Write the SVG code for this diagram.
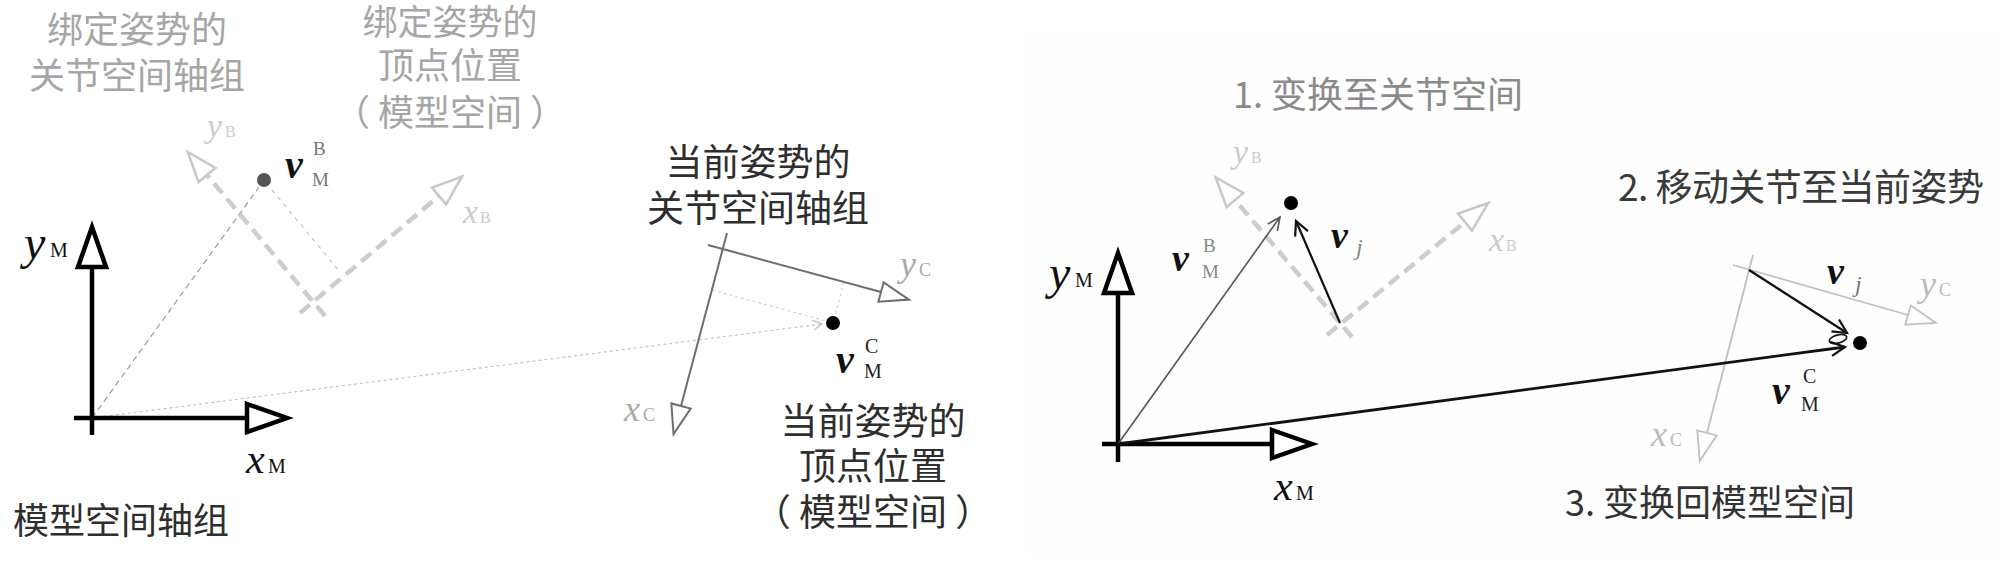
<svg xmlns="http://www.w3.org/2000/svg" width="2000" height="578" viewBox="0 0 2000 578">
<style>
.cjk{font-family:'Noto Sans CJK SC','Noto Sans CJK JP',sans-serif;}
.m{font-family:'Liberation Serif','DejaVu Serif',serif;}
.it{font-style:italic}
.bi{font-style:italic;font-weight:bold}
.lt{fill:#a6a6a6}
.dk{fill:#2e2e2e}
.axm{stroke:#000;stroke-width:4.5;fill:none}
.bind{stroke:#cdcdcd;stroke-width:4.5;stroke-dasharray:13 7;fill:none}
.curL{stroke:#6e6e6e;stroke-width:2;fill:none}
.curR{stroke:#c0c0c0;stroke-width:1.8;fill:none}
</style>
<defs>
<marker id="triM" markerUnits="userSpaceOnUse" orient="auto" overflow="visible" markerWidth="100" markerHeight="100" refX="0" refY="0"><path d="M0,-14 L40,0 L0,14 Z" fill="#fff" stroke="#000" stroke-width="4.5"/></marker>
<marker id="triB" markerUnits="userSpaceOnUse" orient="auto" overflow="visible" markerWidth="100" markerHeight="100" refX="0" refY="0"><path d="M0,-11 L30,0 L0,11 Z" fill="#fff" stroke="#c8c8c8" stroke-width="2.5"/></marker>
<marker id="triC" markerUnits="userSpaceOnUse" orient="auto" overflow="visible" markerWidth="100" markerHeight="100" refX="0" refY="0"><path d="M0,-10 L29,0 L0,10 Z" fill="#fff" stroke="#6e6e6e" stroke-width="2"/></marker>
<marker id="triCl" markerUnits="userSpaceOnUse" orient="auto" overflow="visible" markerWidth="100" markerHeight="100" refX="0" refY="0"><path d="M0,-10 L29,0 L0,10 Z" fill="#fff" stroke="#c0c0c0" stroke-width="1.8"/></marker>
<marker id="stk" markerUnits="userSpaceOnUse" orient="auto" overflow="visible" markerWidth="100" markerHeight="100" refX="0" refY="0"><path d="M-14,-7 L0,0 L-14,7" fill="none" stroke="#111" stroke-width="2.2"/></marker>
<marker id="stkG" markerUnits="userSpaceOnUse" orient="auto" overflow="visible" markerWidth="100" markerHeight="100" refX="0" refY="0"><path d="M-13,-6 L0,0 L-13,6" fill="none" stroke="#555" stroke-width="1.6"/></marker>
<marker id="stkL" markerUnits="userSpaceOnUse" orient="auto" overflow="visible" markerWidth="100" markerHeight="100" refX="0" refY="0"><path d="M-9,-5 L0,0 L-9,5" fill="none" stroke="#bbb" stroke-width="1.2"/></marker>
</defs>
<rect x="0" y="0" width="2000" height="578" fill="#fff"/>
<rect id="right-panel-bg" x="1026" y="34" width="974" height="522" fill="#fefefe"/>

<g id="left-panel">
  <g id="connectors-left">
    <path d="M92,418 L259,187" stroke="#9a9a9a" stroke-width="1.2" stroke-dasharray="6 4" fill="none"/>
    <path d="M272,190 L340,272" stroke="#c4c4c4" stroke-width="1.2" stroke-dasharray="4 5" fill="none"/>
    <path d="M92,418 L822,324" stroke="#c4c4c4" stroke-width="1.2" stroke-dasharray="3 3" fill="none" marker-end="url(#stkL)"/>
    <path d="M712,290 L826,321" stroke="#d0d0d0" stroke-width="1.1" stroke-dasharray="3 3" fill="none"/>
    <path d="M844,282 L835,316" stroke="#d0d0d0" stroke-width="1.1" stroke-dasharray="3 3" fill="none"/>
  </g>
  <g id="model-axes-left">
    <path class="axm" d="M92,435 V267" marker-end="url(#triM)"/>
    <path class="axm" d="M74,418 H247" marker-end="url(#triM)"/>
    <text class="m it" x="24" y="259" font-size="48" fill="#111">y</text>
    <text class="m" x="50" y="257" font-size="20" fill="#111">M</text>
    <text class="m it" x="246" y="473" font-size="42" fill="#111">x</text>
    <text class="m" x="268" y="473" font-size="20" fill="#111">M</text>
    <text class="cjk dk" x="13" y="534" font-size="36">模型空间轴组</text>
  </g>
  <g id="bind-axes-left">
    <path class="bind" d="M325,316 L207,175" marker-end="url(#triB)"/>
    <path class="bind" d="M300,313 L439,196" marker-end="url(#triB)"/>
    <text class="m it" x="207" y="137" font-size="34" fill="#cccccc">y</text>
    <text class="m" x="225" y="137" font-size="16" fill="#cccccc">B</text>
    <text class="m it" x="463" y="223" font-size="34" fill="#cccccc">x</text>
    <text class="m" x="480" y="223" font-size="16" fill="#cccccc">B</text>
    <text class="cjk lt" x="137" y="43" font-size="36" text-anchor="middle">绑定姿势的</text>
    <text class="cjk lt" x="137" y="89" font-size="36" text-anchor="middle">关节空间轴组</text>
  </g>
  <g id="bind-vertex-left">
    <circle cx="264" cy="180" r="7" fill="#555"/>
    <text class="m bi" x="285" y="178" font-size="40" fill="#111">v</text>
    <text class="m" x="313" y="155" font-size="19" fill="#777">B</text>
    <text class="m" x="312" y="186" font-size="19" fill="#777">M</text>
    <text class="cjk lt" x="450" y="35" font-size="35" text-anchor="middle">绑定姿势的</text>
    <text class="cjk lt" x="450" y="79" font-size="36" text-anchor="middle">顶点位置</text>
    <text class="cjk lt" x="450" y="126" font-size="36" text-anchor="middle">（ 模型空间 ）</text>
  </g>
  <g id="current-axes-left">
    <path class="curL" d="M727,233 L681,406" marker-end="url(#triC)"/>
    <path class="curL" d="M708,245 L881,292" marker-end="url(#triC)"/>
    <text class="m it" x="900" y="276" font-size="36" fill="#aaa">y</text>
    <text class="m" x="919" y="276" font-size="18" fill="#aaa">C</text>
    <text class="m it" x="624" y="421" font-size="36" fill="#aaa">x</text>
    <text class="m" x="643" y="421" font-size="18" fill="#aaa">C</text>
    <text class="cjk dk" x="758" y="176" font-size="37" text-anchor="middle">当前姿势的</text>
    <text class="cjk dk" x="758" y="222" font-size="37" text-anchor="middle">关节空间轴组</text>
  </g>
  <g id="current-vertex-left">
    <circle cx="833" cy="323" r="7" fill="#000"/>
    <text class="m bi" x="836" y="373" font-size="40" fill="#111">v</text>
    <text class="m" x="865" y="353" font-size="20" fill="#222">C</text>
    <text class="m" x="864" y="378" font-size="20" fill="#222">M</text>
    <text class="cjk dk" x="873" y="435" font-size="37" text-anchor="middle">当前姿势的</text>
    <text class="cjk dk" x="873" y="480" font-size="37" text-anchor="middle">顶点位置</text>
    <text class="cjk dk" x="873" y="526" font-size="37" text-anchor="middle">（ 模型空间 ）</text>
  </g>
</g>

<g id="right-panel">
  <g id="bind-axes-right">
    <path class="bind" d="M1352,337 L1235,200" marker-end="url(#triB)"/>
    <path class="bind" d="M1327,335 L1465,222" marker-end="url(#triB)"/>
    <text class="m it" x="1233" y="163" font-size="34" fill="#cccccc">y</text>
    <text class="m" x="1251" y="163" font-size="16" fill="#cccccc">B</text>
    <text class="m it" x="1489" y="251" font-size="34" fill="#cccccc">x</text>
    <text class="m" x="1506" y="251" font-size="16" fill="#cccccc">B</text>
  </g>
  <g id="current-axes-right">
    <path class="curR" d="M1733,265 L1908,315" marker-end="url(#triCl)"/>
    <path class="curR" d="M1753,255 L1707,433" marker-end="url(#triCl)"/>
    <text class="m it" x="1920" y="296" font-size="36" fill="#bbb">y</text>
    <text class="m" x="1939" y="296" font-size="18" fill="#bbb">C</text>
    <text class="m it" x="1651" y="446" font-size="36" fill="#bbb">x</text>
    <text class="m" x="1670" y="446" font-size="18" fill="#bbb">C</text>
  </g>
  <g id="model-axes-right">
    <path class="axm" d="M1118,462 V293" marker-end="url(#triM)"/>
    <path class="axm" d="M1102,444 H1272" marker-end="url(#triM)"/>
    <text class="m it" x="1049" y="289" font-size="48" fill="#111">y</text>
    <text class="m" x="1075" y="287" font-size="20" fill="#111">M</text>
    <text class="m it" x="1274" y="500" font-size="42" fill="#111">x</text>
    <text class="m" x="1296" y="500" font-size="20" fill="#111">M</text>
  </g>
  <g id="connectors-right">
    <path d="M1118,444 L1280,217" stroke="#555" stroke-width="1.6" fill="none" marker-end="url(#stkG)"/>
    <path d="M1340,323 L1296,221" stroke="#111" stroke-width="2.2" fill="none" marker-end="url(#stk)"/>
    <path d="M1749,270 L1847,333" stroke="#111" stroke-width="2.4" fill="none" marker-end="url(#stk)"/>
    <path d="M1118,444 L1845,347" stroke="#111" stroke-width="2.8" fill="none" marker-end="url(#stk)"/>
    <ellipse cx="1838" cy="339" rx="9" ry="4" transform="rotate(-15 1838 339)" fill="none" stroke="#111" stroke-width="1.6"/>
  </g>
  <g id="bind-vertex-right">
    <circle cx="1291" cy="203" r="7" fill="#000"/>
    <text class="m bi" x="1172" y="271" font-size="38" fill="#111">v</text>
    <text class="m" x="1203" y="252" font-size="19" fill="#888">B</text>
    <text class="m" x="1202" y="278" font-size="19" fill="#888">M</text>
    <text class="m bi" x="1331" y="248" font-size="38" fill="#111">v</text>
    <text class="m it" x="1356" y="255" font-size="24" fill="#888">j</text>
    <text class="cjk" x="1233" y="108" font-size="36" fill="#8a8a8a">1. 变换至关节空间</text>
  </g>
  <g id="current-vertex-right">
    <circle cx="1860" cy="343" r="7" fill="#000"/>
    <text class="m bi" x="1827" y="284" font-size="38" fill="#111">v</text>
    <text class="m it" x="1855" y="292" font-size="24" fill="#777">j</text>
    <text class="m bi" x="1772" y="404" font-size="40" fill="#111">v</text>
    <text class="m" x="1803" y="383" font-size="20" fill="#222">C</text>
    <text class="m" x="1801" y="411" font-size="20" fill="#222">M</text>
    <text class="cjk" x="1618" y="201" font-size="37" fill="#3a3a3a" textLength="366" lengthAdjust="spacing">2. 移动关节至当前姿势</text>
    <text class="cjk" x="1565" y="516" font-size="36" fill="#333">3. 变换回模型空间</text>
  </g>
</g>
</svg>
